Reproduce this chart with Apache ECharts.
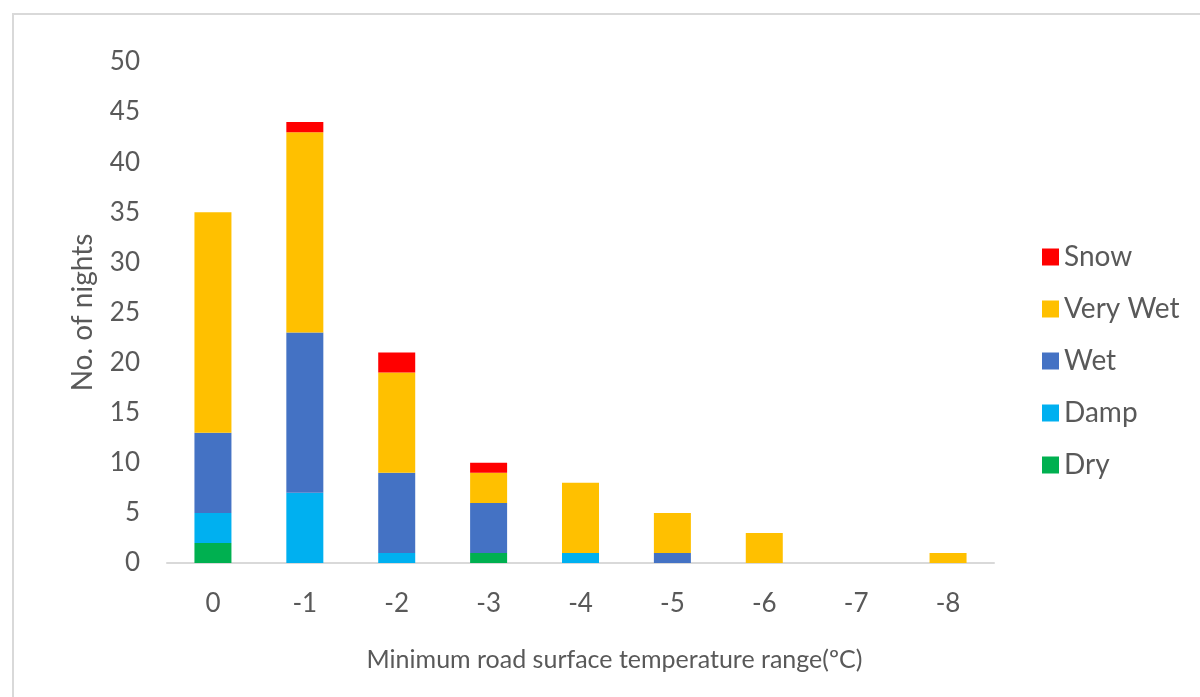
<!DOCTYPE html>
<html>
<head>
<meta charset="utf-8">
<script src="https://cdn.jsdelivr.net/npm/echarts@6/dist/echarts.min.js"></script>
<style>
  html, body { margin: 0; padding: 0; background: #fff; }
  #chart { width: 1200px; height: 697px; }
</style>
</head>
<body>
<div id="chart"></div>
<script>
// temperature ranges on the x axis
const categories = ["0", "-1", "-2", "-3", "-4", "-5", "-6", "-7", "-8"];

// nights per road state (bottom to top)
const dry     = [2, 0, 0, 1, 0, 0, 0, 0, 0];
const damp    = [3, 7, 1, 0, 1, 0, 0, 0, 0];
const wet     = [8, 16, 8, 5, 0, 1, 0, 0, 0];
const veryWet = [22, 20, 10, 3, 7, 4, 3, 0, 1];
const snow    = [0, 1, 2, 1, 0, 0, 0, 0, 0];

const legendOrder = ["Snow", "Very Wet", "Wet", "Damp", "Dry"];

const textColor = "#595959";
const fontFamily = "Lato, 'Open Sans', sans-serif";

const chart = echarts.init(document.getElementById("chart"));

function stackSeries(name, data, color) {
  return {
    name: name,
    type: "bar",
    stack: "nights",
    barWidth: 37,
    itemStyle: { color: color },
    data: data,
  };
}

const option = {
  animation: false,
  textStyle: { fontFamily: fontFamily },
  graphic: [
    {
      // outer light frame (only top and left visible in the reference)
      type: "rect",
      shape: { x: 13, y: 14, width: 1300, height: 800 },
      style: { fill: "none", stroke: "#d9d9d9", lineWidth: 2 },
      silent: true,
    },
  ],
  grid: {
    left: 167,
    right: 206,
    top: 62,
    bottom: 134,
  },
  legend: {
    orient: "vertical",
    left: 1037,
    top: 238,
    itemWidth: 17,
    itemHeight: 17,
    itemGap: 24,
    icon: "rect",
    data: legendOrder,
    textStyle: { fontSize: 28, color: textColor, fontFamily: fontFamily },
  },
  xAxis: {
    type: "category",
    data: categories,
    name: "Minimum road surface temperature range(ºC)",
    nameLocation: "middle",
    nameGap: 84,
    nameTextStyle: { fontSize: 25, color: textColor, fontFamily: fontFamily, padding: [0, 0, 0, 68] },
    axisLine: { lineStyle: { color: "#d9d9d9", width: 2 } },
    axisTick: { show: false },
    axisLabel: { fontSize: 26, color: textColor, margin: 28, fontFamily: fontFamily },
  },
  yAxis: {
    type: "value",
    min: 0,
    max: 50,
    interval: 5,
    name: "No. of nights",
    nameLocation: "middle",
    nameGap: 70,
    nameTextStyle: { fontSize: 28, color: textColor, fontFamily: fontFamily },
    axisLine: { show: false },
    axisTick: { show: false },
    splitLine: { show: false },
    axisLabel: { fontSize: 26, color: textColor, margin: 27, fontFamily: fontFamily },
  },
  series: [
    stackSeries("Dry", dry, "#00B050"),
    stackSeries("Damp", damp, "#00B0F0"),
    stackSeries("Wet", wet, "#4472C4"),
    stackSeries("Very Wet", veryWet, "#FFC000"),
    stackSeries("Snow", snow, "#FF0000"),
  ],
};

chart.setOption(option);
</script>
</body>
</html>
